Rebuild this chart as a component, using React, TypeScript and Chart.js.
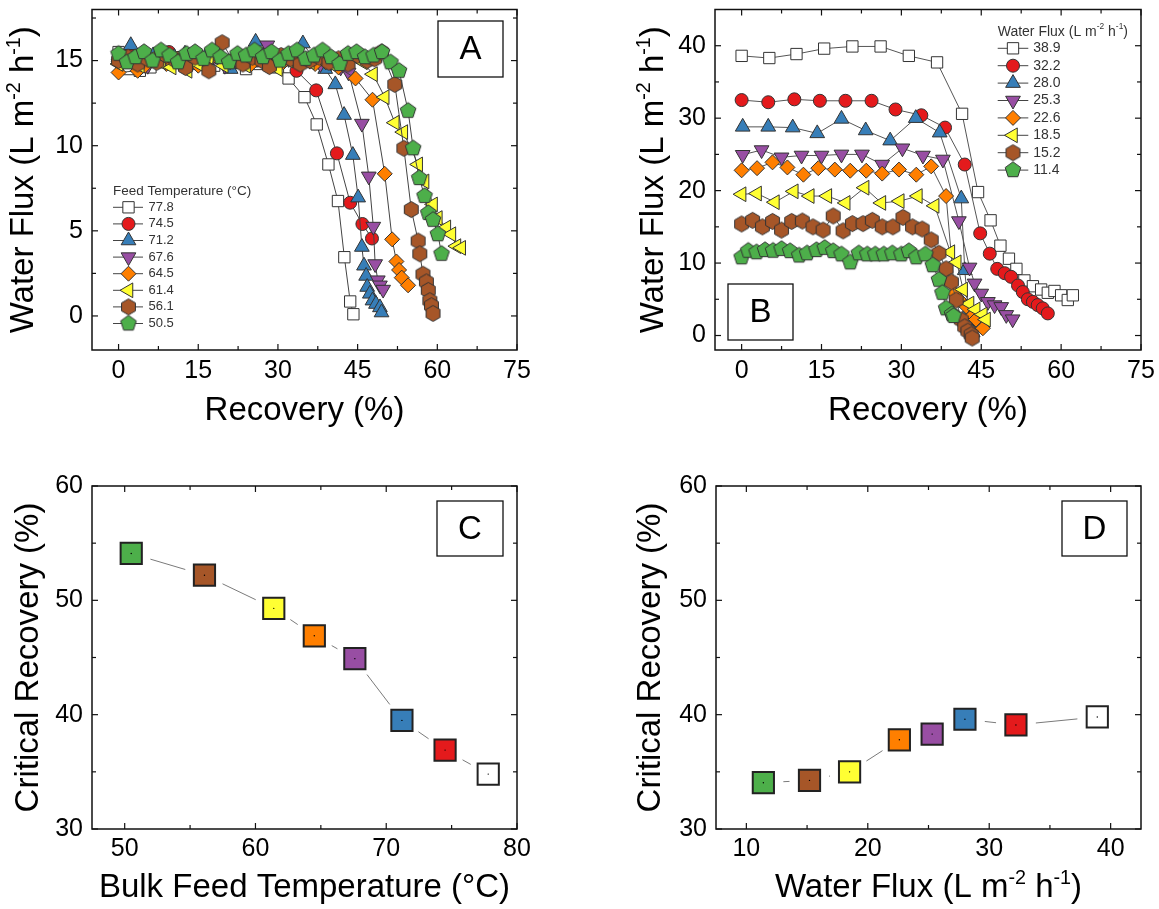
import React, { useEffect, useRef } from 'react';
import { Chart, registerables } from 'chart.js';
import { drawPoint } from 'chart.js/helpers';

Chart.register(...registerables);

const FONT = "'Liberation Sans', Arial, Helvetica, sans-serif";
const TICK_SIZE = 25;
const TITLE_SIZE = 33;

// ---------- Panel A: water flux vs. recovery, one curve per feed temperature (°C) ----------
const A_LABELS = ['77.8', '74.5', '71.2', '67.6', '64.5', '61.4', '56.1', '50.5'];

const A_REC_778 = [0, 2, 4, 6, 8, 10, 12, 14, 16, 18, 20, 22, 24, 26, 28, 30, 32.0, 35.0, 37.3, 39.5, 41.3, 42.5, 43.6, 44.2];
const A_FLUX_778 = [15.5, 14.5, 14.4, 14.6, 14.9, 15.1, 15.2, 14.8, 15.1, 14.7, 14.9, 15.0, 14.5, 14.8, 15.0, 14.6, 13.95, 12.85, 11.25, 8.9, 6.75, 3.45, 0.85, 0.1];

const A_REC_745 = [0, 2, 4, 6, 8, 9.5, 12, 14, 16, 18, 20, 22, 24, 26, 28, 30, 32, 33.5, 37.2, 41.1, 43.6, 45.9, 47.7];
const A_FLUX_745 = [15.0, 15.3, 14.9, 15.2, 15.0, 15.5, 15.1, 15.3, 14.8, 15.2, 15.0, 14.9, 15.2, 15.0, 15.3, 14.9, 15.1, 14.4, 13.25, 9.55, 6.65, 5.4, 4.55];

const A_REC_712 = [0, 2.3, 4.5, 6.5, 8.5, 10.5, 12.5, 14.5, 16.5, 18.5, 21.1, 23.0, 25.8, 28, 30, 32.5, 34.7, 36.8, 38.9, 40.8, 42.45, 44.1, 45.1, 45.8, 46.2, 46.6, 46.8, 47.3, 47.8, 48.45, 49.2, 49.5];
const A_FLUX_712 = [15.2, 15.9, 15.1, 15.3, 14.9, 15.2, 15.4, 15.0, 15.3, 15.1, 14.5, 15.2, 16.1, 15.3, 15.0, 15.2, 16.0, 15.1, 14.5, 13.6, 11.8, 9.45, 6.95, 4.05, 2.95, 2.35, 1.7, 1.3, 0.9, 0.7, 0.5, 0.2];

const A_REC_676 = [0, 2, 4, 5.5, 8, 10, 12, 14, 16, 18, 20, 22, 24, 26, 28, 30, 32, 34, 36, 38, 40, 41.8, 43.3, 45.8, 47.1, 47.95, 48.3, 48.8, 49.2, 49.8];
const A_FLUX_676 = [14.8, 15.1, 14.9, 14.7, 15.2, 15.0, 14.8, 15.1, 14.9, 15.2, 14.7, 15.0, 15.2, 15.5, 15.9, 15.3, 15.1, 14.9, 15.0, 14.8, 14.9, 14.6, 14.3, 11.3, 8.2, 5.25, 3.05, 2.1, 1.8, 1.55];

const A_REC_645 = [0, 3.6, 5, 7, 9, 11, 13, 15, 17, 19, 21, 23, 25, 27, 29, 31, 33, 35, 37, 39, 41.4, 44.6, 47.8, 50.1, 51.5, 52.3, 52.8, 53.3, 54.5];
const A_FLUX_645 = [14.3, 14.4, 14.7, 15.0, 14.8, 15.1, 14.9, 14.7, 15.0, 15.3, 14.9, 15.1, 14.8, 15.0, 15.4, 14.9, 15.2, 15.0, 14.8, 14.9, 14.6, 13.95, 12.7, 8.35, 4.5, 3.2, 2.7, 2.25, 1.8];

const A_REC_614 = [0, 2, 4, 6, 8, 10, 13, 15, 17, 19.8, 22, 24, 26, 28, 30, 32, 34, 36, 38, 40, 42, 44, 46, 47.9, 50.1, 52.0, 53.6, 56.4, 57.6, 59.2, 60.1, 61.7, 62.65, 63.6, 64.5];
const A_FLUX_614 = [14.8, 15.0, 14.7, 15.1, 14.9, 14.6, 14.4, 14.8, 15.2, 14.7, 15.0, 14.7, 15.1, 14.8, 14.5, 15.0, 15.1, 14.9, 15.2, 14.8, 15.0, 15.3, 14.9, 14.2, 12.85, 11.35, 10.8, 8.9, 7.9, 6.55, 5.75, 5.2, 4.8, 4.1, 4.0];

const A_REC_561 = [0, 1.8, 3.6, 5.4, 7.2, 9, 10.8, 12.6, 14.4, 17, 19.5, 21.5, 23.4, 25.2, 27, 28.4, 30.6, 32.4, 34.2, 36, 37.8, 39.6, 41.4, 43.2, 45, 46.8, 48.2, 49.5, 52.0, 53.7, 55.1, 56.4, 56.7, 57.3, 57.95, 58.3, 58.6, 58.9, 59.2];
const A_FLUX_561 = [15.0, 15.2, 14.8, 15.1, 14.9, 15.3, 15.0, 14.6, 15.2, 14.4, 16.05, 15.0, 14.8, 15.2, 15.0, 14.65, 15.3, 15.1, 14.8, 15.0, 15.2, 14.9, 15.1, 14.8, 15.3, 15.0, 15.1, 15.5, 13.6, 9.85, 6.25, 4.4, 3.65, 2.45, 2.0, 1.5, 0.9, 0.6, 0.15];

const A_REC_505 = [0, 1.6, 3.2, 4.8, 6.4, 8.0, 9.6, 11.2, 12.8, 14.4, 16.0, 17.6, 19.2, 20.8, 22.4, 24.0, 25.6, 27.2, 28.8, 30.4, 32.0, 33.6, 35.2, 36.8, 38.4, 40.0, 41.6, 43.2, 44.8, 46.4, 48.0, 49.6, 51.2, 52.8, 54.5, 55.45, 56.6, 57.6, 58.3, 59.2, 60.1, 60.8];
const A_FLUX_505 = [15.4, 14.9, 15.2, 15.5, 15.0, 15.6, 15.3, 14.9, 15.4, 15.5, 15.1, 15.6, 15.2, 14.9, 15.4, 15.3, 15.6, 15.2, 15.5, 15.0, 15.4, 15.6, 15.1, 15.3, 15.6, 15.2, 14.8, 15.4, 15.5, 15.2, 15.3, 15.5, 14.9, 14.4, 12.05, 9.85, 8.1, 7.05, 6.05, 5.65, 4.8, 3.65];

const A_REC = [A_REC_778, A_REC_745, A_REC_712, A_REC_676, A_REC_645, A_REC_614, A_REC_561, A_REC_505];
const A_FLUX = [A_FLUX_778, A_FLUX_745, A_FLUX_712, A_FLUX_676, A_FLUX_645, A_FLUX_614, A_FLUX_561, A_FLUX_505];

// ---------- Panel B: water flux vs. recovery, one curve per initial water flux ----------
const B_LABELS = ['38.9', '32.2', '28.0', '25.3', '22.6', '18.5', '15.2', '11.4'];

const B_REC_389 = [0, 5.2, 10.3, 15.5, 20.8, 26.1, 31.4, 36.7, 41.4, 44.4, 46.75, 48.6, 50.2, 51.6, 53.1, 54.7, 56.25, 57.5, 58.75, 60.0, 61.25, 62.2];
const B_FLUX_389 = [38.6, 38.3, 38.85, 39.6, 39.9, 39.9, 38.6, 37.7, 30.6, 19.8, 15.9, 12.4, 10.6, 9.2, 7.6, 6.8, 6.35, 5.9, 6.15, 5.55, 4.9, 5.55];

const B_REC_322 = [0, 5.0, 9.9, 14.7, 19.5, 24.4, 28.9, 33.75, 38.2, 41.9, 44.8, 46.6, 48.0, 49.4, 50.6, 51.9, 52.8, 53.75, 54.7, 55.6, 56.55, 57.5];
const B_FLUX_322 = [32.5, 32.2, 32.6, 32.4, 32.4, 32.4, 31.2, 30.4, 28.7, 23.6, 14.1, 11.3, 9.2, 8.6, 8.1, 6.9, 6.0, 5.0, 4.65, 4.2, 3.75, 3.05];

const B_REC_280 = [0.2, 5.0, 9.6, 14.2, 18.75, 23.3, 27.9, 32.7, 37.2, 41.25, 41.9, 42.6, 43.0, 43.4];
const B_FLUX_280 = [28.8, 28.8, 28.7, 27.9, 29.9, 28.3, 26.9, 30.0, 28.0, 18.9, 9.0, 3.5, 1.2, 0.4];

const B_REC_253 = [0.2, 3.75, 7.5, 11.25, 15.0, 18.75, 22.6, 26.4, 30.2, 34.05, 37.8, 40.8, 42.8, 43.75, 45.0, 46.25, 47.5, 48.75, 49.7, 50.9];
const B_FLUX_253 = [24.95, 25.6, 24.6, 24.85, 24.85, 25.0, 25.0, 23.6, 25.85, 24.85, 24.3, 15.8, 9.4, 7.2, 5.8, 4.65, 4.2, 3.95, 2.85, 2.25];

const B_REC_226 = [0, 2.9, 5.8, 8.6, 11.6, 14.4, 17.5, 20.4, 23.4, 26.4, 29.55, 32.8, 35.6, 38.4, 40.0, 40.9, 42.2, 43.4, 44.0, 45.3];
const B_FLUX_226 = [22.8, 23.1, 23.9, 23.2, 22.2, 23.1, 22.9, 22.75, 22.75, 22.35, 22.9, 22.2, 23.35, 19.25, 5.8, 4.9, 4.0, 2.8, 2.2, 1.0];

const B_REC_185 = [0, 2.9, 6.25, 9.8, 12.8, 16.1, 19.55, 23.1, 26.25, 29.7, 33.1, 36.25, 39.2, 40.4, 41.6, 42.8, 43.95, 45.3, 45.9];
const B_FLUX_185 = [19.5, 19.6, 18.4, 19.9, 19.25, 19.25, 18.3, 20.4, 18.3, 18.55, 19.25, 17.9, 11.5, 10.1, 6.35, 4.4, 3.6, 2.9, 2.2];

const B_REC_152 = [0, 2.06, 3.9, 5.8, 7.5, 9.4, 11.4, 13.4, 15.3, 17.2, 19.05, 20.8, 22.8, 24.55, 26.4, 28.4, 30.3, 32.1, 33.9, 35.6, 37.05, 38.4, 39.4, 40.3, 41.25, 41.9, 42.5, 43.1, 43.3];
const B_FLUX_152 = [15.4, 15.9, 15.0, 15.75, 14.55, 15.75, 15.8, 15.0, 14.55, 16.5, 14.45, 15.45, 15.45, 15.9, 15.0, 15.0, 16.3, 15.0, 14.7, 13.2, 11.35, 9.2, 7.4, 4.9, 2.15, 1.2, 0.6, 0.1, -0.35];

const B_REC_114 = [0, 1.25, 2.8, 4.4, 5.9, 7.5, 9.1, 10.8, 12.3, 14.05, 15.6, 17.2, 18.75, 20.4, 22.0, 23.6, 25.1, 26.7, 28.3, 30.0, 31.4, 32.8, 34.5, 35.9, 37.05, 37.7, 38.4, 39.5, 39.8];
const B_FLUX_114 = [10.8, 11.7, 11.5, 11.8, 11.7, 11.95, 11.65, 11.05, 11.35, 11.8, 12.1, 11.65, 11.2, 10.1, 11.35, 11.2, 11.2, 11.2, 11.35, 11.2, 11.65, 10.8, 11.2, 9.7, 7.7, 5.9, 3.75, 2.95, 2.7];

const B_REC = [B_REC_389, B_REC_322, B_REC_280, B_REC_253, B_REC_226, B_REC_185, B_REC_152, B_REC_114];
const B_FLUX = [B_FLUX_389, B_FLUX_322, B_FLUX_280, B_FLUX_253, B_FLUX_226, B_FLUX_185, B_FLUX_152, B_FLUX_114];

// ---------- Panel C: critical recovery vs. bulk feed temperature ----------
const C_TEMP = [50.5, 56.1, 61.4, 64.5, 67.6, 71.2, 74.5, 77.8];
const C_REC = [54.1, 52.2, 49.3, 46.9, 44.9, 39.5, 36.9, 34.8];

// ---------- Panel D: critical recovery vs. water flux ----------
const D_FLUX = [11.4, 15.2, 18.5, 22.6, 25.3, 28.0, 32.2, 38.9];
const D_REC = [34.05, 34.25, 35.0, 37.8, 38.3, 39.6, 39.1, 39.8];

// ---------- Axis ticks ----------
const REC_TICKS = [0, 15, 30, 45, 60, 75];
const REC_MINOR = [7.5, 22.5, 37.5, 52.5, 67.5];
const A_Y_TICKS = [0, 5, 10, 15];
const A_Y_MINOR = [2.5, 7.5, 12.5, 17.5];
const B_Y_TICKS = [0, 10, 20, 30, 40];
const B_Y_MINOR = [5, 15, 25, 35];
const C_X_TICKS = [50, 60, 70, 80];
const C_X_MINOR = [55, 65, 75];
const D_X_TICKS = [10, 20, 30, 40];
const D_X_MINOR = [15, 25, 35];
const CR_TICKS = [30, 40, 50, 60];
const CR_MINOR = [35, 45, 55];

// ---------- Styling ----------
const WHITE = '#ffffff';
const RED = '#e41a1c';
const BLUE = '#377eb8';
const PURPLE = '#984ea3';
const ORANGE = '#ff7f00';
const YELLOW = '#ffff33';
const BROWN = '#a65628';
const GREEN = '#4daf4a';
const CURVE_FILLS = [WHITE, RED, BLUE, PURPLE, ORANGE, YELLOW, BROWN, GREEN];
const SUMMARY_FILLS = [GREEN, BROWN, YELLOW, ORANGE, PURPLE, BLUE, RED, WHITE];

type Part = { t: string; sup?: boolean };
const FLUX_TITLE: Part[] = [{ t: 'Water Flux (L m' }, { t: '-2', sup: true }, { t: ' h' }, { t: '-1', sup: true }, { t: ')' }];
const REC_TITLE: Part[] = [{ t: 'Recovery (%)' }];
const CR_TITLE: Part[] = [{ t: 'Critical Recovery (%)' }];
const TEMP_TITLE: Part[] = [{ t: 'Bulk Feed Temperature (°C)' }];
const A_LEGEND_TITLE: Part[] = [{ t: 'Feed Temperature (°C)' }];
const B_LEGEND_TITLE: Part[] = FLUX_TITLE;

function polygonMarker(sides: number, r: number, fill: string, startDeg: number): HTMLCanvasElement {
  const size = Math.ceil(2 * r + 3);
  const c = document.createElement('canvas');
  c.width = size;
  c.height = size;
  const g = c.getContext('2d')!;
  const cx = size / 2;
  g.beginPath();
  for (let k = 0; k < sides; k++) {
    const a = ((startDeg + (360 * k) / sides) * Math.PI) / 180;
    const px = cx + r * Math.cos(a);
    const py = cx + r * Math.sin(a);
    if (k === 0) g.moveTo(px, py);
    else g.lineTo(px, py);
  }
  g.closePath();
  g.fillStyle = fill;
  g.fill();
  g.lineWidth = 1;
  g.strokeStyle = '#333';
  g.stroke();
  return c;
}

function curveMarkers() {
  return [
    { style: 'rect', radius: 8, rotation: 0 },
    { style: 'circle', radius: 6.5, rotation: 0 },
    { style: 'triangle', radius: 8.5, rotation: 0 },
    { style: 'triangle', radius: 8.5, rotation: 180 },
    { style: 'rectRot', radius: 7.5, rotation: 0 },
    { style: 'triangle', radius: 8.5, rotation: -90 },
    { style: polygonMarker(6, 8, BROWN, -90), radius: 8, rotation: 0 },
    { style: polygonMarker(5, 8.2, GREEN, -90), radius: 8, rotation: 0 },
  ];
}

function drawRich(
  ctx: CanvasRenderingContext2D,
  parts: Part[],
  x: number,
  y: number,
  size: number,
  angle: number,
  align: 'center' | 'left',
  baseline: CanvasTextBaseline,
  color: string
) {
  ctx.save();
  ctx.translate(x, y);
  ctx.rotate(angle);
  ctx.textBaseline = baseline;
  ctx.textAlign = 'left';
  ctx.fillStyle = color;
  const supSize = size * 0.6;
  const widths = parts.map((p) => {
    ctx.font = `${p.sup ? supSize : size}px ${FONT}`;
    return ctx.measureText(p.t).width;
  });
  const total = widths.reduce((a, b) => a + b, 0);
  let cx = align === 'center' ? -total / 2 : 0;
  parts.forEach((p, i) => {
    ctx.font = `${p.sup ? supSize : size}px ${FONT}`;
    ctx.fillText(p.t, cx, p.sup ? -size * 0.38 : 0);
    cx += widths[i];
  });
  ctx.restore();
}

type Legend = {
  title: Part[];
  titleSize: number;
  titleX: number;
  titleY: number;
  y0: number;
  dy: number;
  lineX1: number;
  lineX2: number;
  markerX: number;
  textX: number;
  size: number;
};

type Spec = {
  ox: number;
  oy: number;
  w: number;
  h: number;
  area: { l: number; t: number; r: number; b: number };
  xMin: number;
  xMax: number;
  yMin: number;
  yMax: number;
  xTicks: number[];
  xMinor: number[];
  yTicks: number[];
  yMinor: number[];
  xPad: number;
  xTitle: Part[];
  xTitleY: number;
  yTitle: Part[];
  yTitleX: number;
  box: { x: number; y: number; w: number; h: number; text: string };
  legend?: Legend;
  gap?: number;
  build: () => any[];
};

function makeDecor(spec: Spec) {
  return {
    id: 'decor',
    beforeDatasetsDraw(chart: any) {
      if (!spec.gap) return;
      const { ctx } = chart;
      const pts = chart.getDatasetMeta(0).data;
      const g = spec.gap;
      ctx.save();
      ctx.strokeStyle = '#7a7a7a';
      ctx.lineWidth = 1;
      for (let i = 0; i < pts.length - 1; i++) {
        const a = pts[i];
        const b = pts[i + 1];
        const dx = b.x - a.x;
        const dy = b.y - a.y;
        const d = Math.hypot(dx, dy);
        if (d <= 2 * g) continue;
        const ux = dx / d;
        const uy = dy / d;
        ctx.beginPath();
        ctx.moveTo(a.x + ux * g, a.y + uy * g);
        ctx.lineTo(b.x - ux * g, b.y - uy * g);
        ctx.stroke();
      }
      ctx.restore();
    },
    afterDatasetsDraw(chart: any) {
      const { ctx, chartArea: ca, scales } = chart;
      const ox = spec.ox;
      const oy = spec.oy;
      ctx.save();
      ctx.strokeStyle = '#111';
      ctx.lineWidth = 1.2;
      const seg = (x1: number, y1: number, x2: number, y2: number) => {
        ctx.beginPath();
        ctx.moveTo(x1, y1);
        ctx.lineTo(x2, y2);
        ctx.stroke();
      };
      const xs = scales.x;
      const ys = scales.y;
      const xt: [number[], number][] = [
        [spec.xTicks, 6],
        [spec.xMinor, 4],
      ];
      xt.forEach(([vals, len]) =>
        vals.forEach((v) => {
          const px = xs.getPixelForValue(v);
          seg(px, ca.bottom, px, ca.bottom - len);
          seg(px, ca.top, px, ca.top + len);
        })
      );
      const yt: [number[], number][] = [
        [spec.yTicks, 6],
        [spec.yMinor, 4],
      ];
      yt.forEach(([vals, len]) =>
        vals.forEach((v) => {
          const py = ys.getPixelForValue(v);
          seg(ca.left, py, ca.left + len, py);
          seg(ca.right, py, ca.right - len, py);
        })
      );
      // plot frame
      ctx.lineWidth = 1.5;
      ctx.strokeRect(ca.left, ca.top, ca.right - ca.left, ca.bottom - ca.top);

      // panel letter box
      const bx = spec.box;
      ctx.lineWidth = 1.3;
      ctx.fillStyle = '#fff';
      ctx.fillRect(bx.x - ox, bx.y - oy, bx.w, bx.h);
      ctx.strokeRect(bx.x - ox, bx.y - oy, bx.w, bx.h);
      ctx.fillStyle = '#000';
      ctx.font = `33px ${FONT}`;
      ctx.textAlign = 'center';
      ctx.textBaseline = 'middle';
      ctx.fillText(bx.text, bx.x - ox + bx.w / 2, bx.y - oy + bx.h / 2 + 1);

      // legend
      const L = spec.legend;
      if (L) {
        drawRich(ctx, L.title, L.titleX - ox, L.titleY - oy, L.titleSize, 0, 'left', 'middle', '#333');
        chart.data.datasets.forEach((ds: any, i: number) => {
          const y = L.y0 + i * L.dy - oy;
          ctx.strokeStyle = '#444';
          ctx.lineWidth = 1;
          seg(L.lineX1 - ox, y, L.lineX2 - ox, y);
          ctx.fillStyle = ds.pointBackgroundColor;
          ctx.strokeStyle = ds.pointBorderColor;
          ctx.lineWidth = ds.pointBorderWidth;
          drawPoint(
            ctx,
            { pointStyle: ds.pointStyle, rotation: ds.pointRotation || 0, radius: ds.pointRadius, borderWidth: ds.pointBorderWidth },
            L.markerX - ox,
            y
          );
          ctx.fillStyle = '#333';
          ctx.font = `${L.size}px ${FONT}`;
          ctx.textAlign = 'left';
          ctx.textBaseline = 'middle';
          ctx.fillText(ds.label, L.textX - ox, y);
        });
      }

      // axis titles
      const cxMid = (ca.left + ca.right) / 2;
      const cyMid = (ca.top + ca.bottom) / 2;
      drawRich(ctx, spec.xTitle, cxMid, spec.xTitleY - oy, TITLE_SIZE, 0, 'center', 'alphabetic', '#000');
      drawRich(ctx, spec.yTitle, spec.yTitleX - ox, cyMid, TITLE_SIZE, -Math.PI / 2, 'center', 'alphabetic', '#000');
      ctx.restore();
    },
  };
}

function pairs(xs: number[], ys: number[]) {
  return xs.map((x, i) => ({ x, y: ys[i] }));
}

function curveDatasets(labels: string[], recs: number[][], fluxes: number[][], lineColor: string) {
  const markers = curveMarkers();
  return labels.map((label, i) => ({
    label,
    data: pairs(recs[i], fluxes[i]),
    showLine: true,
    borderColor: lineColor,
    borderWidth: 1,
    pointStyle: markers[i].style,
    pointRadius: markers[i].radius,
    pointRotation: markers[i].rotation,
    pointBackgroundColor: CURVE_FILLS[i],
    pointBorderColor: '#333',
    pointBorderWidth: 1,
    order: labels.length - i,
  }));
}

function summaryDatasets(xs: number[], ys: number[]) {
  const data = pairs(xs, ys);
  return [
    {
      label: 'critical',
      data,
      showLine: false,
      pointStyle: 'rect',
      pointRadius: 15,
      pointBackgroundColor: SUMMARY_FILLS,
      pointBorderColor: '#222',
      pointBorderWidth: 2,
      order: 1,
    },
    {
      label: 'centre',
      data,
      showLine: false,
      pointStyle: 'circle',
      pointRadius: 0.7,
      pointBackgroundColor: '#000',
      pointBorderWidth: 0,
      order: 0,
    },
  ];
}

const PANELS: Spec[] = [
  {
    ox: 0, oy: 0, w: 580, h: 455,
    area: { l: 92, t: 8, r: 517, b: 350 },
    xMin: -5, xMax: 75, yMin: -2, yMax: 18,
    xTicks: REC_TICKS, xMinor: REC_MINOR, yTicks: A_Y_TICKS, yMinor: A_Y_MINOR,
    xPad: 6,
    xTitle: REC_TITLE, xTitleY: 420, yTitle: FLUX_TITLE, yTitleX: 33,
    box: { x: 438, y: 21, w: 65, h: 56, text: 'A' },
    legend: {
      title: A_LEGEND_TITLE, titleSize: 13.5, titleX: 113, titleY: 191,
      y0: 207.3, dy: 16.6, lineX1: 113, lineX2: 143, markerX: 128.5, textX: 148.5, size: 13,
    },
    build: () => curveDatasets(A_LABELS, A_REC, A_FLUX, '#444'),
  },
  {
    ox: 580, oy: 0, w: 579, h: 455,
    area: { l: 715, t: 8, r: 1141, b: 350 },
    xMin: -5, xMax: 75, yMin: -2, yMax: 45,
    xTicks: REC_TICKS, xMinor: REC_MINOR, yTicks: B_Y_TICKS, yMinor: B_Y_MINOR,
    xPad: 6,
    xTitle: REC_TITLE, xTitleY: 420, yTitle: FLUX_TITLE, yTitleX: 663,
    box: { x: 728, y: 284, w: 65, h: 56, text: 'B' },
    legend: {
      title: B_LEGEND_TITLE, titleSize: 14, titleX: 997.7, titleY: 31.7,
      y0: 48.3, dy: 17.4, lineX1: 997.7, lineX2: 1028.3, markerX: 1013, textX: 1033.3, size: 14,
    },
    build: () => curveDatasets(B_LABELS, B_REC, B_FLUX, '#555'),
  },
  {
    ox: 0, oy: 455, w: 580, h: 454,
    area: { l: 92, t: 486, r: 517, b: 829 },
    xMin: 47.5, xMax: 80, yMin: 30, yMax: 60,
    xTicks: C_X_TICKS, xMinor: C_X_MINOR, yTicks: CR_TICKS, yMinor: CR_MINOR,
    xPad: 5,
    xTitle: TEMP_TITLE, xTitleY: 897, yTitle: CR_TITLE, yTitleX: 38,
    box: { x: 437, y: 501, w: 66, h: 55, text: 'C' },
    gap: 20,
    build: () => summaryDatasets(C_TEMP, C_REC),
  },
  {
    ox: 580, oy: 455, w: 579, h: 454,
    area: { l: 716, t: 486, r: 1141, b: 829 },
    xMin: 7.5, xMax: 42.5, yMin: 30, yMax: 60,
    xTicks: D_X_TICKS, xMinor: D_X_MINOR, yTicks: CR_TICKS, yMinor: CR_MINOR,
    xPad: 5,
    xTitle: FLUX_TITLE, xTitleY: 897, yTitle: CR_TITLE, yTitleX: 660,
    box: { x: 1062, y: 501, w: 65, h: 55, text: 'D' },
    gap: 20,
    build: () => summaryDatasets(D_FLUX, D_REC),
  },
];

function buildConfig(spec: Spec): any {
  const tickFont = { family: FONT, size: TICK_SIZE };
  return {
    type: 'line',
    data: { datasets: spec.build() },
    plugins: [makeDecor(spec)],
    options: {
      responsive: false,
      animation: false,
      devicePixelRatio: 1,
      events: [],
      layout: {
        padding: { left: 0, top: spec.area.t - spec.oy, right: spec.ox + spec.w - spec.area.r, bottom: 0 },
      },
      elements: { line: { tension: 0 } },
      scales: {
        x: {
          type: 'linear',
          min: spec.xMin,
          max: spec.xMax,
          afterBuildTicks: (s: any) => {
            s.ticks = spec.xTicks.map((v) => ({ value: v }));
          },
          afterFit: (s: any) => {
            s.height = spec.oy + spec.h - spec.area.b;
            s.paddingLeft = 0;
            s.paddingRight = 0;
          },
          grid: { display: false, drawTicks: false },
          border: { display: false },
          ticks: {
            font: tickFont,
            color: '#000',
            padding: spec.xPad,
            maxRotation: 0,
            autoSkip: false,
            callback: (v: number) => String(v),
          },
        },
        y: {
          type: 'linear',
          min: spec.yMin,
          max: spec.yMax,
          afterBuildTicks: (s: any) => {
            s.ticks = spec.yTicks.map((v) => ({ value: v }));
          },
          afterFit: (s: any) => {
            s.width = spec.area.l - spec.ox;
            s.paddingTop = 0;
            s.paddingBottom = 0;
          },
          grid: { display: false, drawTicks: false },
          border: { display: false },
          ticks: {
            font: tickFont,
            color: '#000',
            padding: 9,
            autoSkip: false,
            callback: (v: number) => String(v),
          },
        },
      },
      plugins: {
        legend: { display: false },
        tooltip: { enabled: false },
        title: { display: false },
      },
    },
  };
}

function Panel({ spec }: { spec: Spec }) {
  const ref = useRef<HTMLCanvasElement | null>(null);
  useEffect(() => {
    if (!ref.current) return;
    const chart = new Chart(ref.current, buildConfig(spec));
    return () => chart.destroy();
  }, [spec]);
  return (
    <canvas
      ref={ref}
      width={spec.w}
      height={spec.h}
      style={{ position: 'absolute', left: spec.ox, top: spec.oy, width: spec.w, height: spec.h }}
    />
  );
}

export default function App() {
  return (
    <div style={{ position: 'absolute', left: 0, top: 0, width: 1159, height: 909, background: '#fff', overflow: 'hidden' }}>
      {PANELS.map((p, i) => (
        <Panel key={i} spec={p} />
      ))}
    </div>
  );
}
